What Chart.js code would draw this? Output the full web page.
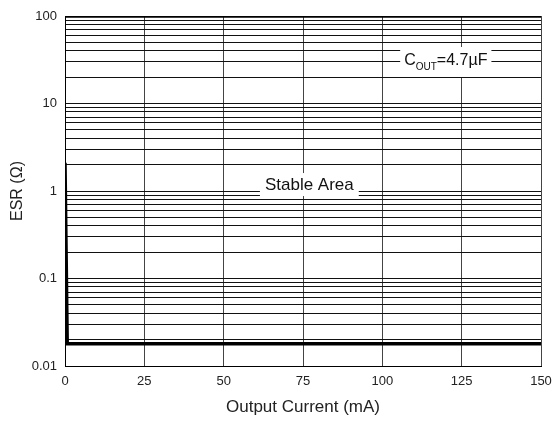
<!DOCTYPE html>
<html>
<head>
<meta charset="utf-8">
<script src="https://cdn.jsdelivr.net/npm/chart.js@4/dist/chart.umd.min.js"></script>
<style>
html,body{margin:0;padding:0;background:#fff;}
#wrap{width:553px;height:421px;position:relative;}
</style>
</head>
<body>
<div id="wrap"><canvas id="c" width="553" height="421"></canvas></div>
<script>
// Data
const xTicks = [0, 25, 50, 75, 100, 125, 150];
const yDecadeLabels = ['0.01', '0.1', '1', '10', '100'];
const upperCurrent = [0, 150];
const upperEsr = [100, 100];
const lowerCurrent = [0, 0.7, 150];
const lowerEsr = [2.1, 0.018, 0.018];
const noteText = 'Stable Area';
const capLabelMain = 'C';
const capLabelSub = 'OUT';
const capLabelRest = '=4.7µF';

const FONT = "'Liberation Sans', Arial, sans-serif";

const yAllTicks = [];
[0.01, 0.1, 1, 10].forEach(d => { for (let k = 1; k <= 9; k++) yAllTicks.push(+(d * k).toPrecision(3)); });
yAllTicks.push(100);

const annot = {
  id: 'annot',
  afterDatasetsDraw(chart) {
    const {ctx, scales: {x, y}} = chart;
    ctx.save();
    // Stable Area
    ctx.font = '17px ' + FONT;
    ctx.textBaseline = 'middle';
    ctx.textAlign = 'center';
    const sx = x.getPixelForValue(77), sy = y.getPixelForValue(1.17);
    const sw = ctx.measureText(noteText).width;
    ctx.fillStyle = '#fff';
    ctx.fillRect(sx - sw / 2 - 5, sy - 12, sw + 10, 23);
    ctx.fillStyle = '#111';
    ctx.fillText(noteText, sx, sy);
    // C_OUT label
    const cx = x.getPixelForValue(120), cy = y.getPixelForValue(30.6);
    ctx.font = '16px ' + FONT;
    const w1 = ctx.measureText(capLabelMain).width;
    ctx.font = '10px ' + FONT;
    const w2 = ctx.measureText(capLabelSub).width;
    ctx.font = '16px ' + FONT;
    const w3 = ctx.measureText(capLabelRest).width;
    const tw = w1 + w2 + w3;
    ctx.fillStyle = '#fff';
    ctx.fillRect(cx - tw / 2 - 4, cy - 14, tw + 8, 30);
    ctx.fillStyle = '#111';
    ctx.textAlign = 'left';
    let px = cx - tw / 2;
    ctx.fillText(capLabelMain, px, cy);
    px += w1;
    ctx.font = '10px ' + FONT;
    ctx.fillText(capLabelSub, px, cy + 6);
    px += w2;
    ctx.font = '16px ' + FONT;
    ctx.fillText(capLabelRest, px, cy);
    ctx.restore();
  }
};

new Chart(document.getElementById('c'), {
  type: 'scatter',
  data: {
    datasets: [
      {
        data: upperCurrent.map((v, i) => ({x: v, y: upperEsr[i]})),
        showLine: true, borderColor: '#000', borderWidth: 3.5, pointRadius: 0, fill: false, tension: 0
      },
      {
        data: lowerCurrent.map((v, i) => ({x: v, y: lowerEsr[i]})),
        showLine: true, borderColor: '#000', borderWidth: 3.5, pointRadius: 0, fill: false, tension: 0
      }
    ]
  },
  options: {
    responsive: false,
    animation: false,
    devicePixelRatio: 1,
    layout: {padding: {top: 16, right: 12, left: 0, bottom: 0}},
    plugins: {legend: {display: false}, tooltip: {enabled: false}},
    scales: {
      x: {
        type: 'linear', min: 0, max: 150,
        afterBuildTicks(s) { s.ticks = xTicks.map(v => ({value: v})); },
        afterFit(s) { s.height = 55; s.paddingLeft = 0; s.paddingRight = 0; },
        grid: {color: '#444', lineWidth: 1, drawTicks: false},
        border: {color: '#000', width: 1},
        ticks: {color: '#222', font: {family: FONT, size: 13}, padding: 8, maxRotation: 0},
        title: {display: true, text: 'Output Current (mA)', color: '#222', font: {family: FONT, size: 17}, padding: {top: 0, bottom: 3}}
      },
      y: {
        type: 'logarithmic', min: 0.01, max: 100,
        afterBuildTicks(s) { s.ticks = yAllTicks.map(v => ({value: v})); },
        afterFit(s) { s.width = 65; s.paddingTop = 0; s.paddingBottom = 0; },
        grid: {color: '#111', lineWidth: 1, drawTicks: false},
        border: {color: '#000', width: 1},
        ticks: {
          color: '#222', font: {family: FONT, size: 13}, padding: 8, autoSkip: false,
          callback(v) {
            const idx = [0.01, 0.1, 1, 10, 100].findIndex(d => Math.abs(d - v) < d * 1e-6);
            return idx >= 0 ? yDecadeLabels[idx] : '';
          }
        },
        title: {display: true, text: 'ESR (Ω)', color: '#222', font: {family: FONT, size: 16}, padding: {top: 8, bottom: 0}}
      }
    }
  },
  plugins: [annot]
});
</script>
</body>
</html>
